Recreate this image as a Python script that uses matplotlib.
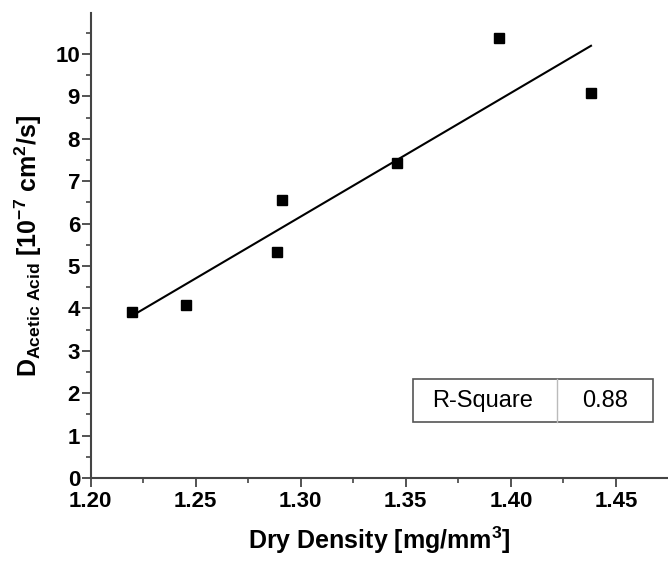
import numpy as np
import matplotlib
matplotlib.use("Agg")
import matplotlib.pyplot as plt
from matplotlib.ticker import MultipleLocator
from matplotlib.patches import Rectangle
from matplotlib.lines import Line2D

plt.rcParams['font.family'] = ['Liberation Sans', 'DejaVu Sans']
plt.rcParams['mathtext.fontset'] = 'custom'
plt.rcParams['mathtext.rm'] = 'Liberation Sans:bold'
plt.rcParams['mathtext.it'] = 'Liberation Sans:bold'
plt.rcParams['mathtext.bf'] = 'Liberation Sans:bold'

dry_density = [1.2197, 1.2455, 1.2886, 1.2911, 1.3460, 1.3943, 1.4381]
diffusion = [3.915, 4.07, 5.32, 6.56, 7.44, 10.38, 9.07]
x_tick_labels = ['1.20', '1.25', '1.30', '1.35', '1.40', '1.45']
y_ticks = list(range(0, 11))
r_square_label = "R-Square"
r_square_value = "0.88"

x = np.array(dry_density)
y = np.array(diffusion)
slope, intercept = np.polyfit(x, y, 1)
xl = np.array([x.min(), x.max()])

fig = plt.figure(figsize=(6.68, 5.61), dpi=100)
ax = fig.add_axes([90.5/668, 1-478/561, 1-90.5/668, (478-13)/561])

ax.plot(xl, slope*xl + intercept, color='black', lw=1.5, zorder=2)
ax.plot(x, y, linestyle='none', marker='s', color='black', markersize=7, zorder=3)

ax.set_xlim(1.20, 1.20 + (668-90.5)/2102)
ax.set_ylim(0, (478-13)/42.4)
ax.set_xticks([float(t) for t in x_tick_labels])
ax.set_xticklabels(x_tick_labels)
ax.xaxis.set_minor_locator(MultipleLocator(0.025))
ax.set_yticks(y_ticks)
ax.yaxis.set_minor_locator(MultipleLocator(0.5))

for s in ['top', 'right']:
    ax.spines[s].set_visible(False)
for s in ['left', 'bottom']:
    ax.spines[s].set_color('#444444')
    ax.spines[s].set_linewidth(1.5)

ax.tick_params(which='major', direction='out', length=6.5, width=1.3, colors='#444444',
               labelsize=16, labelcolor='black')
ax.tick_params(axis='x', which='major', pad=3)
ax.tick_params(axis='y', which='major', pad=1)
ax.tick_params(which='minor', direction='out', length=3.3, width=1.2, colors='#444444')
for lab in ax.get_xticklabels() + ax.get_yticklabels():
    lab.set_fontweight('bold')

ax.set_xlabel(r"Dry Density [mg/mm$^{3}$]", fontsize=18, fontweight='bold', labelpad=9)
ax.set_ylabel(r"D$_{\mathrm{Acetic\ Acid}}$ [10$^{-7}$ cm$^{2}$/s]", fontsize=18,
              fontweight='bold', labelpad=8)

# R-square table
def fx(px):
    return px / 668
def fy(py):
    return 1 - py / 561
box = Rectangle((fx(413), fy(422)), fx(653)-fx(413), fy(379)-fy(422),
                transform=fig.transFigure, fill=True, facecolor='white',
                edgecolor='#555555', lw=1.2, zorder=5)
fig.patches.append(box)
fig.lines.append(Line2D([fx(557), fx(557)], [fy(422), fy(379)], transform=fig.transFigure,
                        color='#bbbbbb', lw=1.0, zorder=6))
fig.text(fx(482.5), fy(401), r_square_label, ha='center', va='center', fontsize=17, zorder=7)
fig.text(fx(605), fy(401), r_square_value, ha='center', va='center', fontsize=17, zorder=7)

fig.savefig("out.png", dpi=100)
